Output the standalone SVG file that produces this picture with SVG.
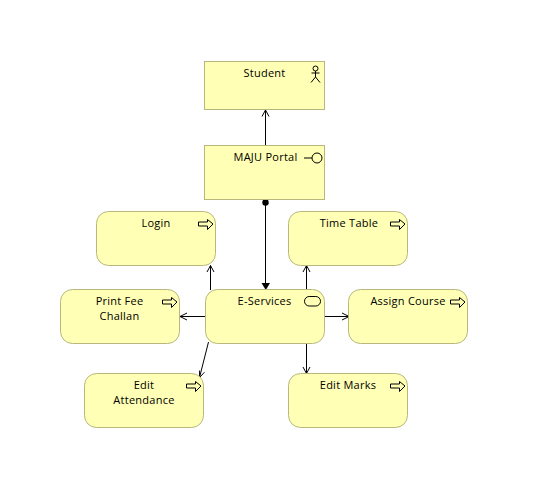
<svg xmlns="http://www.w3.org/2000/svg" width="534" height="491" viewBox="0 0 534 491">
<style>
.n{fill:#ffffb5;stroke:#b8b87c;stroke-width:1}
.t{font-family:"Open Sans","Noto Sans",sans-serif;font-size:11px;letter-spacing:.25px;fill:#000;text-anchor:middle}
.i{fill:none;stroke:#000;stroke-width:1}
.w{fill:#ffffb5;stroke:#000;stroke-width:1}
.c{fill:none;stroke:#000;stroke-width:1}
</style>
<defs>
<path id="arrow" class="w" d="M-7.500-2.500H1.500V-5L7-.5 1.500 5V1.500H-7.500Z"/>
</defs>
<rect width="534" height="491" fill="#fff"/>
<g id="connectors">
<path class="c" d="M265.500 145.500V110"/><path class="c" d="M262 116.500L265.500 110L269 116.500"/>
<path class="c" d="M265.500 203V283"/><circle cx="265.500" cy="202.500" r="3.200"/><path d="M261.500 283H270L265.800 290Z"/>
<path class="c" d="M210.500 290V265.500"/><path class="c" d="M207 272L210.500 265.500L214 272"/>
<path class="c" d="M306.500 290V265.500"/><path class="c" d="M303 272L306.500 265.500L310 272"/>
<path class="c" d="M205.500 316.500H180"/><path class="c" d="M187 313L180 316.500L187 320"/>
<path class="c" d="M325 316.500H349"/><path class="c" d="M342 313L349 316.500L342 320"/>
<path class="c" d="M208.500 342L199.500 377.500"/><path class="c" d="M199.600 370.500L199.500 377.500L204.400 372.300"/>
<path class="c" d="M306.500 343.500V373.500"/><path class="c" d="M303 367L306.500 373.500L310 367"/>
</g>
<g id="student"><rect class="n" x="204.500" y="61.500" width="120" height="48"/><text class="t" x="264.500" y="77">Student</text>
<g class="i"><circle cx="315.500" cy="68.500" r="2.500"/><path d="M315.500 71V77M311.500 73H319.500M315.500 77L311 82.500M315.500 77L320 82.500"/></g></g>
<g id="maju-portal"><rect class="n" x="204.500" y="145.500" width="120" height="54"/><text class="t" x="265.500" y="161">MAJU Portal</text>
<g class="i"><path d="M304 158H312"/><circle cx="317" cy="158" r="5"/></g></g>
<g id="login"><rect class="n" x="96.500" y="211.500" width="119" height="54" rx="12"/><text class="t" x="156" y="227">Login</text><use href="#arrow" x="206" y="224.500"/></g>
<g id="time-table"><rect class="n" x="288.500" y="211.500" width="119" height="54" rx="12"/><text class="t" x="349" y="227">Time Table</text><use href="#arrow" x="398" y="224.500"/></g>
<g id="e-services"><rect class="n" x="205.500" y="289.500" width="119" height="54" rx="12"/><text class="t" x="264.500" y="305">E-Services</text><rect class="i" x="304.500" y="296.500" width="16" height="9.500" rx="4.700"/></g>
<g id="print-fee-challan"><rect class="n" x="60.500" y="289.500" width="119" height="54" rx="12"/><text class="t" x="119.500" y="305">Print Fee</text><text class="t" x="119.500" y="320">Challan</text><use href="#arrow" x="170" y="302.500"/></g>
<g id="assign-course"><rect class="n" x="348.500" y="289.500" width="119" height="54" rx="12"/><text class="t" x="408" y="305">Assign Course</text><use href="#arrow" x="458" y="302.500"/></g>
<g id="edit-attendance"><rect class="n" x="84.500" y="373.500" width="119" height="54" rx="12"/><text class="t" x="144" y="389">Edit</text><text class="t" x="144" y="404">Attendance</text><use href="#arrow" x="194" y="386.500"/></g>
<g id="edit-marks"><rect class="n" x="288.500" y="373.500" width="119" height="54" rx="12"/><text class="t" x="348" y="389">Edit Marks</text><use href="#arrow" x="398" y="386.500"/></g>
</svg>
